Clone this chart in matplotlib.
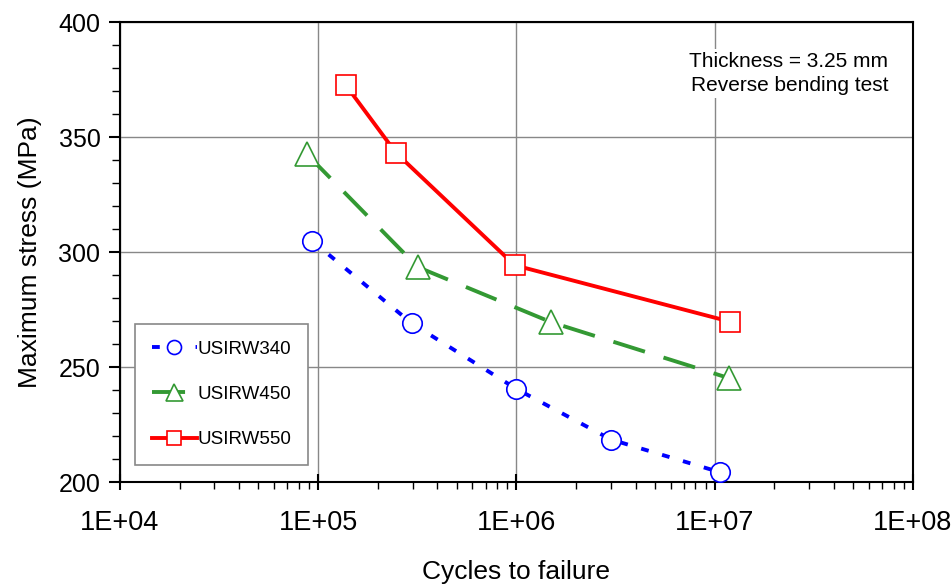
import matplotlib
matplotlib.use('Agg')
import matplotlib.pyplot as plt
from matplotlib.ticker import FixedLocator, LogLocator, NullFormatter, MultipleLocator

plt.rcParams['font.family'] = ['Liberation Sans', 'DejaVu Sans']

# cycles to failure / maximum stress (MPa)
cycles_340 = [9.3e4, 2.97e5, 1.0e6, 3.0e6, 1.06e7]
stress_340 = [305, 269, 240.5, 218.5, 204.3]
cycles_450 = [8.8e4, 3.18e5, 1.5e6, 1.18e7]
stress_450 = [342.5, 293.5, 269.5, 245.2]
cycles_550 = [1.38e5, 2.47e5, 9.8e5, 1.19e7]
stress_550 = [372.6, 343.2, 294.3, 269.8]
x_ticks = [1e4, 1e5, 1e6, 1e7, 1e8]
x_tick_labels = ['1E+04', '1E+05', '1E+06', '1E+07', '1E+08']

fig = plt.figure(figsize=(9.51, 5.85), dpi=100)
ax = fig.add_axes([0.126, 0.176, 0.834, 0.786])

ax.plot(cycles_340, stress_340, color='blue', lw=2.8, ls=(0, (2, 3.6)),
        marker='o', ms=14, mfc='white', mec='blue', mew=1.2, label='USIRW340', zorder=3)
ax.plot(cycles_450, stress_450, color='#339933', lw=2.8, ls=(0, (8.5, 5)),
        marker='^', ms=17, mfc='white', mec='#339933', mew=1.2, label='USIRW450', zorder=3)
ax.plot(cycles_550, stress_550, color='red', lw=2.8, ls='-',
        marker='s', ms=14, mfc='white', mec='red', mew=1.2, label='USIRW550', zorder=3)

ax.set_xscale('log')
ax.set_xlim(1e4, 1e8)
ax.set_ylim(200, 400)
ax.xaxis.set_major_locator(FixedLocator(x_ticks))
ax.set_xticklabels(x_tick_labels)
ax.xaxis.set_minor_locator(LogLocator(base=10, subs=range(2, 10)))
ax.xaxis.set_minor_formatter(NullFormatter())
ax.yaxis.set_major_locator(MultipleLocator(50))
ax.yaxis.set_minor_locator(MultipleLocator(10))

ax.grid(True, which='major', color='#888888', lw=1)
ax.set_axisbelow(True)
for s in ax.spines.values():
    s.set_linewidth(1.5)
    s.set_color('black')
ax.tick_params(axis='x', which='major', direction='inout', length=12, width=1.5, labelsize=19.5, pad=14)
ax.tick_params(axis='x', which='minor', direction='out', length=5, width=1)
ax.tick_params(axis='y', which='major', direction='out', length=8, width=1.5, labelsize=18, pad=6)
ax.tick_params(axis='y', which='minor', direction='out', length=6, width=1)

ax.set_xlabel('Cycles to failure', fontsize=19)
ax.xaxis.set_label_coords(0.5, -0.17)
ax.set_ylabel('Maximum stress (MPa)', fontsize=19)
ax.yaxis.set_label_coords(-0.098, 0.5)

ax.text(0.969, 0.889, 'Thickness = 3.25 mm\nReverse bending test', transform=ax.transAxes,
        ha='right', va='center', fontsize=15, linespacing=1.35,
        bbox=dict(facecolor='white', edgecolor='none', pad=2), zorder=4)

leg = ax.legend(loc='lower left', bbox_to_anchor=(0.019, 0.037), borderaxespad=0, fontsize=13.5,
                labelspacing=1.5, handlelength=2.4, handletextpad=0.05, borderpad=0.9,
                fancybox=False, framealpha=1, edgecolor='#888888', markerscale=0.72)
leg.get_frame().set_linewidth(1.2)

plt.savefig('out.png', dpi=100)
